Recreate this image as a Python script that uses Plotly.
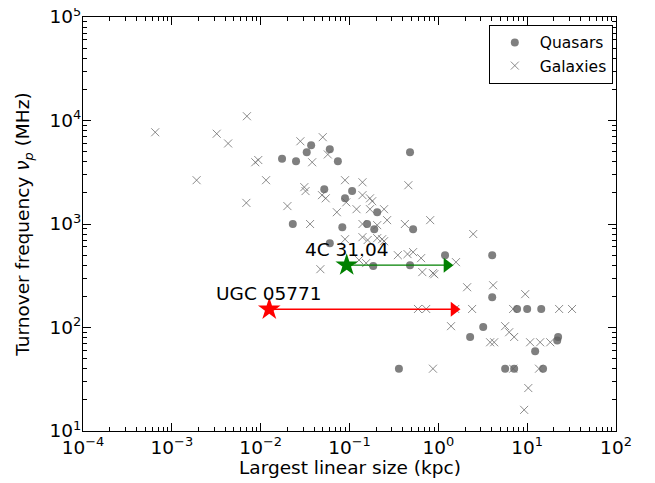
import numpy as np
import plotly.graph_objects as go

# ---- data ----
gal_lls = [0.00065, 0.0019, 0.0032, 0.0043, 0.0070, 0.0069, 0.0087, 0.0094, 0.0115,
           0.028, 0.050, 0.038, 0.057, 0.089, 0.14, 0.031, 0.032, 0.049, 0.054, 0.020,
           0.072, 0.092, 0.12, 0.14, 0.17, 0.18, 0.17, 0.036, 0.14, 0.46, 0.245, 0.265,
           0.81, 0.205, 0.42, 0.089, 0.14, 0.16, 0.205, 0.233, 0.245, 0.047, 0.128, 0.154,
           0.35, 0.45, 0.52, 0.64, 1.58, 0.66, 0.87, 0.90, 2.47, 2.11, 4.14, 9.5,
           0.59, 0.73, 1.55, 2.40, 6.95, 22.9, 32.0, 1.39, 5.65, 6.27, 7.14, 3.83, 4.25,
           10.8, 14.0, 18.2, 6.95, 13.6, 10.3, 9.25, 0.87]
gal_nu = [7700, 2650, 7450, 6000, 11000, 1600, 3950, 4150, 2650,
          6300, 6900, 3950, 4700, 2650, 2530, 2270, 2080, 1900, 1770, 1490,
          1300, 1620, 1390, 1900, 1770, 1660, 1390, 1000, 1000, 2370, 1390, 1090,
          1090, 975, 1000, 713, 746, 700, 730, 713, 682, 366, 448, 419,
          500, 512, 535, 468, 428, 343, 335, 327, 800, 245, 256, 210,
          151, 151, 151, 151, 151, 151, 151, 103, 103, 90, 81, 72, 72,
          72, 72, 72, 40, 40, 26, 16, 40]

qso_lls = [0.0174, 0.025, 0.033, 0.037, 0.060, 0.074, 0.052, 0.107, 0.089, 0.205,
           0.023, 0.083, 0.158, 0.19, 0.060, 0.48, 0.52, 0.185, 0.48, 1.19,
           4.04, 4.04, 7.7, 10.0, 14.4, 3.2, 2.28, 21.8, 22.3, 12.3,
           5.65, 7.14, 15.1, 0.36]
qso_nu = [4270, 4040, 4930, 5770, 5270, 4040, 2170, 2080, 1770, 1300,
          1000, 930, 1000, 890, 650, 4930, 890, 392, 400, 500,
          500, 196, 151, 151, 151, 101, 81, 75, 81, 59,
          40, 40, 40, 40]

src_names = ["4C 31.04", "UGC 05771"]
src_lls = [0.093, 0.0125]
src_lls_max = [1.25, 1.5]
src_nu = [400, 150]
src_colors = ["#008000", "#ff0000"]

x_tick_vals = [1e-4, 1e-3, 1e-2, 1e-1, 1e0, 1e1, 1e2]
x_tick_text = ["10<sup>\u22124</sup>", "10<sup>\u22123</sup>", "10<sup>\u22122</sup>",
               "10<sup>\u22121</sup>", "10<sup>0</sup>", "10<sup>1</sup>", "10<sup>2</sup>"]
y_tick_vals = [1e1, 1e2, 1e3, 1e4, 1e5]
y_tick_text = ["10<sup>1</sup>", "10<sup>2</sup>", "10<sup>3</sup>", "10<sup>4</sup>", "10<sup>5</sup>"]

x_title = "Largest linear size (kpc)"
y_title = "Turnover frequency <i>ν<sub>p</sub></i> (MHz)"

FONT = "DejaVu Sans"

fig = go.Figure()

fig.add_trace(go.Scatter(
    x=qso_lls, y=qso_nu, mode="markers", name="Quasars",
    marker=dict(symbol="circle", size=8, color="rgba(95,95,95,0.8)", line=dict(width=0)),
))
fig.add_trace(go.Scatter(
    x=gal_lls, y=gal_nu, mode="markers", name="Galaxies",
    marker=dict(symbol="x-thin", size=8, line=dict(width=1, color="rgba(100,100,100,0.75)"),
                color="rgba(100,100,100,0.75)"),
))

for name, x0, x1, yv, col in zip(src_names, src_lls, src_lls_max, src_nu, src_colors):
    fig.add_trace(go.Scatter(x=[x0, x1], y=[yv, yv], mode="lines",
                             line=dict(color=col, width=1.3), showlegend=False))
    fig.add_trace(go.Scatter(x=[x1], y=[yv], mode="markers", showlegend=False,
                             marker=dict(symbol="triangle-right", size=13, color=col,
                                         line=dict(width=0))))
    fig.add_trace(go.Scatter(x=[x0], y=[yv], mode="markers", showlegend=False,
                             marker=dict(symbol="star", size=17, color=col,
                                         line=dict(width=0))))
    fig.add_annotation(x=np.log10(x0), y=np.log10(yv), text=name, showarrow=False,
                       yshift=16, font=dict(family=FONT, size=18.5, color="black"))

# axis titles placed as paper annotations
fig.add_annotation(xref="paper", yref="paper", x=0.5, y=-0.089, text=x_title,
                   showarrow=False, xanchor="center", yanchor="middle",
                   font=dict(family=FONT, size=18.5, color="black"))
fig.add_annotation(xref="paper", yref="paper", x=-0.111, y=0.5, text=y_title,
                   showarrow=False, xanchor="center", yanchor="middle", textangle=-90,
                   font=dict(family=FONT, size=18.5, color="black"))

minor_x = [m * 10.0 ** k for k in range(-4, 2) for m in range(2, 10)]
minor_y = [m * 10.0 ** k for k in range(1, 5) for m in range(2, 10)]

fig.update_xaxes(
    type="log", range=[-4, 2], tickvals=x_tick_vals, ticktext=x_tick_text,
    ticks="inside", ticklen=8, tickwidth=1, tickcolor="black",
    showline=True, linecolor="black", linewidth=1, mirror="ticks",
    showgrid=False, zeroline=False, automargin=False, ticklabeloverflow="allow",
    minor=dict(tickvals=minor_x, ticks="inside", ticklen=4, tickcolor="black", showgrid=False),
    tickfont=dict(family=FONT, size=18.5, color="black"),
)
fig.update_yaxes(
    type="log", range=[1, 5], tickvals=y_tick_vals, ticktext=y_tick_text,
    ticks="inside", ticklen=8, tickwidth=1, tickcolor="black",
    showline=True, linecolor="black", linewidth=1, mirror="ticks",
    showgrid=False, zeroline=False, automargin=False, ticklabeloverflow="allow",
    ticklabelstandoff=-3,
    minor=dict(tickvals=minor_y, ticks="inside", ticklen=4, tickcolor="black", showgrid=False),
    tickfont=dict(family=FONT, size=18.5, color="black"),
)

# page body has an 8px margin: figure sized so the plot area lands at x 83-616, y 17-431
fig.update_layout(
    width=647, height=475,
    margin=dict(l=75, r=39, t=9, b=52),
    paper_bgcolor="white", plot_bgcolor="white",
    font=dict(family=FONT, color="black"),
    legend=dict(x=0.994, xanchor="right", y=0.981, yanchor="top",
                bgcolor="white", bordercolor="black", borderwidth=1,
                font=dict(family=FONT, size=15.5, color="black"),
                itemwidth=40, tracegroupgap=0),
)

fig.write_html("out.html")
